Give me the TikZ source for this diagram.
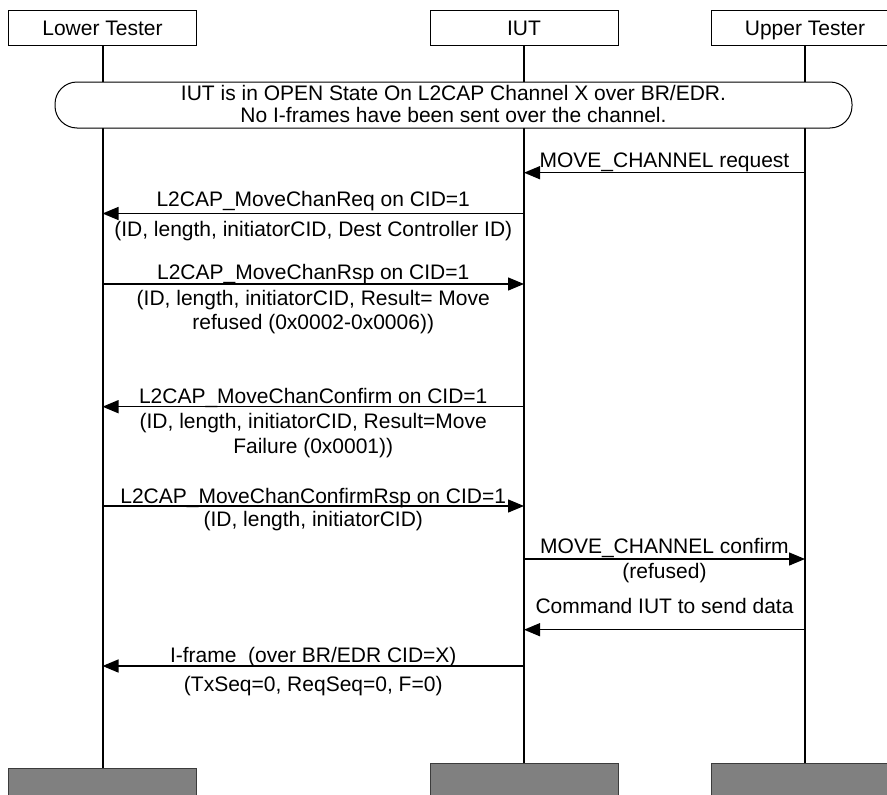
\documentclass[tikz,border=0pt]{standalone}
\usepackage{fontspec}
\setmainfont{Liberation Sans}
\usetikzlibrary{arrows.meta}
\definecolor{footgray}{RGB}{128,128,128}
\definecolor{footedge}{RGB}{60,60,60}
\begin{document}
\begin{tikzpicture}[x=1pt,y=-1pt,
  every node/.style={font=\fontsize{21}{22}\selectfont, inner sep=0pt},
  head/.style={draw, line width=1pt, minimum width=188pt, minimum height=34.5pt, fill=white, text height=16pt, text depth=0pt},
  foot/.style={draw=footedge, fill=footgray, line width=1pt, minimum width=188pt, minimum height=40pt, anchor=north},
  life/.style={line width=2pt},
  statebox/.style={draw, line width=1pt, rounded corners=22pt, minimum width=797pt, minimum height=46pt, fill=white},
  msg/.style={line width=1.4pt, -{Triangle[length=16pt,width=13pt]}},
  lbl/.style={anchor=base}]
\useasboundingbox (0,0) rectangle (887,795);
\clip (0,0) rectangle (887,795);

% lifeline heads and feet
\node[head] (lt) at (102.5,27.75) {Lower Tester};
\node[head] (iut) at (524,27.75) {IUT};
\node[head] (ut) at (805,27.75) {Upper Tester};
\node[foot] (ltf) at (102.5,768) {};
\node[foot] (iutf) at (524,763) {};
\node[foot] (utf) at (805,763) {};
\draw[life] (lt.south) -- (ltf.north);
\draw[life] (iut.south) -- (iutf.north);
\draw[life] (ut.south) -- (utf.north);

% state
\node[statebox] (state) at (453.5,105) {};
\node[align=center] (statetxt) at (453.5,103.5) {IUT is in OPEN State On L2CAP Channel X over BR/EDR.\\No I-frames have been sent over the channel.};

% message end points
\coordinate (u1) at (805,172.7);  \coordinate (i1) at (524,172.7);
\coordinate (i2) at (524,213.5);  \coordinate (l2) at (102.5,213.5);
\coordinate (l3) at (102.5,284);  \coordinate (i3) at (524,284);
\coordinate (i4) at (524,406.7);  \coordinate (l4) at (102.5,406.7);
\coordinate (l5) at (102.5,506);  \coordinate (i5) at (524,506);
\coordinate (i6) at (524,559);    \coordinate (u6) at (805,559);
\coordinate (u7) at (805,629.7);  \coordinate (i7) at (524,629.7);
\coordinate (i8) at (524,666);    \coordinate (l8) at (102.5,666);

\draw[msg] (u1) -- (i1);
\draw[msg] (i2) -- (l2);
\draw[msg] (l3) -- (i3);
\draw[msg] (i4) -- (l4);
\draw[msg] (l5) -- (i5);
\draw[msg] (i6) -- (u6);
\draw[msg] (u7) -- (i7);
\draw[msg] (i8) -- (l8);

% labels
\node[lbl] (t1) at (664.5,167) {MOVE\_CHANNEL request};
\node[lbl] (t2a) at (313.25,206.7) {L2CAP\_MoveChanReq on CID=1};
\node[lbl] (t2b) at (313.25,236) {(ID, length, initiatorCID, Dest Controller ID)};
\node[lbl] (t3a) at (313.25,279) {L2CAP\_MoveChanRsp on CID=1};
\node[lbl] (t3b) at (313.25,305.7) {(ID, length, initiatorCID, Result= Move};
\node[lbl] (t3c) at (313.25,329.5) {refused (0x0002-0x0006))};
\node[lbl] (t4a) at (313.25,403) {L2CAP\_MoveChanConfirm on CID=1};
\node[lbl] (t4b) at (313.25,428) {(ID, length, initiatorCID, Result=Move};
\node[lbl] (t4c) at (313.25,453) {Failure (0x0001))};
\node[lbl] (t5a) at (313.25,503) {L2CAP\_MoveChanConfirmRsp on CID=1};
\node[lbl] (t5b) at (313.25,526) {(ID, length, initiatorCID)};
\node[lbl] (t6a) at (664.5,553) {MOVE\_CHANNEL confirm};
\node[lbl] (t6b) at (664.5,578) {(refused)};
\node[lbl] (t7) at (664.5,613) {Command IUT to send data};
\node[lbl] (t8a) at (313.25,662) {I-frame~~(over BR/EDR CID=X)};
\node[lbl] (t8b) at (313.25,691) {(TxSeq=0, ReqSeq=0, F=0)};
\end{tikzpicture}
\end{document}
